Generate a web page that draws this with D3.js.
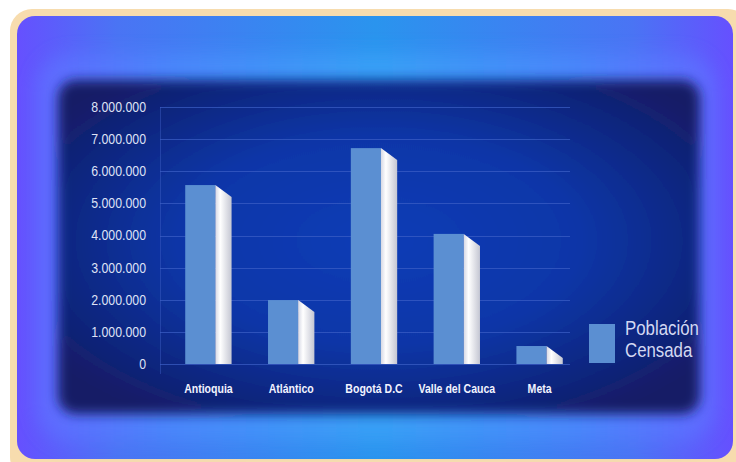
<!DOCTYPE html>
<html>
<head>
<meta charset="utf-8">
<script src="https://cdn.jsdelivr.net/npm/d3@7"></script>
<style>
  html, body { margin: 0; padding: 0; background: #ffffff; }
  svg { display: block; }
</style>
</head>
<body>
<script>
// Población censada por departamento
const categories = ["Antioquia", "Atlántico", "Bogotá D.C", "Valle del Cauca", "Meta"];
const poblacion = [5570000, 1990000, 6720000, 4050000, 560000];
const yTicks = [0, 1000000, 2000000, 3000000, 4000000, 5000000, 6000000, 7000000, 8000000];
const seriesName = ["Población", "Censada"];

const W = 736, H = 462;
const FONT = "'Liberation Sans', Arial, sans-serif";
const svg = d3.select("body").append("svg").attr("width", W).attr("height", H);
const defs = svg.append("defs");

function gradient(id, stops, horizontal) {
  const g = defs.append("linearGradient").attr("id", id)
    .attr("x1", 0).attr("y1", 0).attr("x2", horizontal ? 1 : 0).attr("y2", horizontal ? 0 : 1);
  stops.forEach(([o, c]) => g.append("stop").attr("offset", o).attr("stop-color", c));
}
gradient("gFrame", [[0, "#6650ff"], [0.14, "#4a74f4"], [0.5, "#2a94ee"], [0.86, "#4a74f4"], [1, "#6650ff"]], true);
gradient("gHalo", [[0, "#6068ff"], [0.2, "#4a86fb"], [0.5, "#38a0f6"], [0.8, "#4a86fb"], [1, "#6068ff"]], true);
gradient("gSide", [[0, "#d6d8e4"], [0.3, "#ffffff"], [1, "#c4c6d2"]], true);

const gPanel = defs.append("radialGradient").attr("id", "gPanel").attr("cx", "50%").attr("cy", "48%").attr("r", "62%");
[[0, "#0a3cb6"], [0.5, "#0b36a8"], [0.85, "#10247a"], [1, "#141c66"]]
  .forEach(([o, c]) => gPanel.append("stop").attr("offset", o).attr("stop-color", c));

function blur(id, s) {
  defs.append("filter").attr("id", id).attr("x", "-20%").attr("y", "-20%").attr("width", "140%").attr("height", "140%")
    .append("feGaussianBlur").attr("stdDeviation", s);
}
blur("blurHalo", 9);
blur("blurPanel", 6);

// Background frame
svg.append("rect").attr("x", 10).attr("y", 9).attr("width", 740).attr("height", 470).attr("rx", 22).attr("fill", "#f7dcae");
svg.append("rect").attr("x", 17).attr("y", 16).attr("width", 716).attr("height", 443).attr("rx", 18).attr("fill", "url(#gFrame)");
// Glow halo and dark panel
svg.append("rect").attr("x", 36).attr("y", 54).attr("width", 680).attr("height", 388).attr("rx", 34)
  .attr("fill", "url(#gHalo)").attr("filter", "url(#blurHalo)");
svg.append("rect").attr("x", 58).attr("y", 80).attr("width", 642).attr("height", 334).attr("rx", 18)
  .attr("fill", "url(#gPanel)").attr("filter", "url(#blurPanel)");

// Scales
const y = d3.scaleLinear().domain([0, 8000000]).range([364, 107]);
const x = d3.scaleBand().domain(categories).range([167, 581]).paddingInner(0.44).paddingOuter(0.22);
const frontW = x.bandwidth() * 0.65;
const sideW = x.bandwidth() - frontW;
const slant = 12;

// Squeeze text horizontally to a condensed look
function condense(sel, k) {
  sel.each(function () {
    const len = this.getComputedTextLength();
    d3.select(this).attr("textLength", len * k).attr("lengthAdjust", "spacingAndGlyphs");
  });
}

// Grid
const grid = svg.append("g");
grid.selectAll("line").data(yTicks).join("line")
  .attr("x1", 160).attr("x2", 570)
  .attr("y1", d => Math.round(y(d)) + 0.5).attr("y2", d => Math.round(y(d)) + 0.5)
  .attr("stroke", "#3d5fc6").attr("stroke-opacity", 0.7).attr("stroke-width", 1);
grid.append("line").attr("x1", 160.5).attr("x2", 160.5).attr("y1", y(8000000)).attr("y2", 374)
  .attr("stroke", "#3d5fc6").attr("stroke-opacity", 0.45);

// Y axis labels
const fmt = d => d3.format(",")(d).replace(/,/g, ".");
const yAxis = svg.append("g").attr("transform", "translate(146,0)")
  .call(d3.axisLeft(y).tickValues(yTicks).tickFormat(fmt).tickSize(0).tickPadding(0));
yAxis.select(".domain").remove();
yAxis.selectAll("text")
  .attr("fill", "#dfe2f6")
  .style("font-family", FONT).style("font-size", "14px");
condense(yAxis.selectAll("text"), 0.88);

// Bars: front face plus shaded side face
const bars = svg.append("g").selectAll("g").data(categories).join("g");
bars.append("rect")
  .attr("x", d => x(d)).attr("y", (d, i) => y(poblacion[i]))
  .attr("width", frontW).attr("height", (d, i) => y(0) - y(poblacion[i]))
  .attr("fill", "#5b8fd2");
bars.append("path")
  .attr("d", (d, i) => {
    const x0 = x(d) + frontW, x1 = x0 + sideW, t = y(poblacion[i]), b = y(0);
    return `M${x0},${t}L${x1},${Math.min(t + slant, b)}L${x1},${b}L${x0},${b}Z`;
  })
  .attr("fill", "url(#gSide)");

// Category labels
const xAxis = svg.append("g").attr("transform", "translate(0,381)")
  .call(d3.axisBottom(x).tickSize(0).tickPadding(0));
xAxis.select(".domain").remove();
xAxis.selectAll("text")
  .attr("fill", "#f2f3ff").attr("dy", "0.9em")
  .style("font-family", FONT).style("font-size", "13px").style("font-weight", "bold");
condense(xAxis.selectAll("text"), 0.81);

// Legend
const legend = svg.append("g");
legend.append("rect").attr("x", 589).attr("y", 324).attr("width", 26).attr("height", 39).attr("fill", "#5b8fd2");
const lt = legend.selectAll("text").data(seriesName).join("text")
  .attr("x", 625).attr("y", (d, i) => 335 + i * 22).text(d => d)
  .attr("fill", "#d3d8f2")
  .style("font-family", FONT).style("font-size", "20.5px");
condense(lt, 0.82);
</script>
</body>
</html>
